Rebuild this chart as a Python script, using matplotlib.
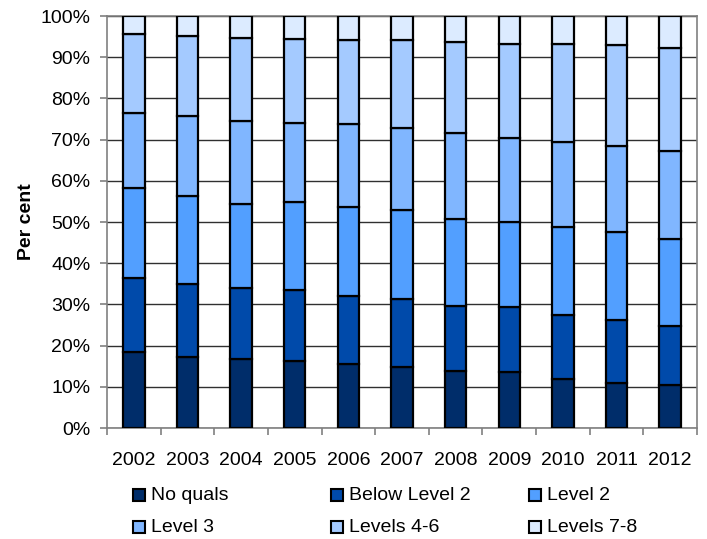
import numpy as np
import matplotlib
matplotlib.use("Agg")
import matplotlib.pyplot as plt
from matplotlib.patches import Rectangle

plt.rcParams['font.family'] = ['Liberation Sans', 'DejaVu Sans']

# data (cumulative shares, per cent)
years = ['2002', '2003', '2004', '2005', '2006', '2007',
         '2008', '2009', '2010', '2011', '2012']
cum_no_quals = [18.4, 17.2, 16.8, 16.2, 15.6, 14.8, 13.8, 13.6, 12.0, 10.9, 10.4]
cum_below_l2 = [36.5, 34.9, 34.1, 33.6, 32.1, 31.3, 29.6, 29.4, 27.5, 26.1, 24.8]
cum_level2 = [58.3, 56.3, 54.4, 54.8, 53.6, 52.8, 50.8, 50.0, 48.8, 47.6, 45.8]
cum_level3 = [76.5, 75.7, 74.5, 74.1, 73.9, 72.7, 71.6, 70.5, 69.4, 68.4, 67.2]
cum_level4_6 = [95.7, 95.1, 94.7, 94.3, 94.1, 94.1, 93.7, 93.3, 93.1, 92.9, 92.3]

labels = ['No quals', 'Below Level 2', 'Level 2', 'Level 3', 'Levels 4-6', 'Levels 7-8']
colors = ['#002D6A', '#004AAA', '#529FFF', '#80B6FF', '#A4CAFF', '#DCEBFF']

cum = np.array([[0] * len(years), cum_no_quals, cum_below_l2, cum_level2,
                cum_level3, cum_level4_6, [100] * len(years)], dtype=float)
shares = np.diff(cum, axis=0)

fig = plt.figure(figsize=(7.07, 5.39), dpi=100)
ax = fig.add_axes([0.1513, 0.2059, 0.8346, 0.7644])

x = np.arange(len(years))
for i in range(len(labels)):
    ax.bar(x, shares[i], bottom=cum[i], width=0.4, color=colors[i],
           edgecolor='black', linewidth=1.6, zorder=3)

ax.set_xlim(-0.5, len(years) - 0.5)
ax.set_ylim(0, 100)
ax.set_yticks(np.arange(0, 101, 10))
ax.set_yticklabels([f'{v}%' for v in range(0, 101, 10)])
ax.yaxis.grid(True, color='#303030', linewidth=1.0, zorder=0)
ax.set_axisbelow(True)

ax.set_xticks(x)
ax.set_xticklabels(years)
ax.set_xticks(np.arange(-0.5, len(years), 1), minor=True)
ax.tick_params(axis='x', which='major', length=0, pad=17, labelsize=14)
ax.tick_params(axis='x', which='minor', length=5, width=1.2, color='#808080')
ax.tick_params(axis='y', length=5, width=1.2, color='#808080', labelsize=14, pad=7)

for s in ax.spines.values():
    s.set_color('#808080')
    s.set_linewidth(1.2)

ax.set_ylabel('Per cent', fontsize=14, fontweight='bold', labelpad=4)

# legend, three columns laid out as in the reference
col_x = [133, 331, 529]
row_y = [495, 527]
W, H = 707.0, 539.0
sq = 12
for k, (lab, col) in enumerate(zip(labels, colors)):
    r, c = divmod(k, 3)
    px, py = col_x[c], row_y[r]
    fig.add_artist(Rectangle((px / W, 1 - (py + sq / 2) / H), sq / W, sq / H,
                             transform=fig.transFigure, facecolor=col,
                             edgecolor='black', linewidth=1.5))
    fig.text((px + sq + 6) / W, 1 - py / H, lab, fontsize=14,
             va='center', ha='left')

fig.savefig('out.png', dpi=100)
